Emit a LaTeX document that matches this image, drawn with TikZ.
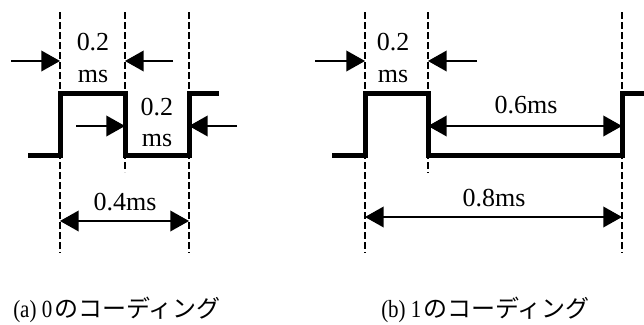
\documentclass[tikz,border=0pt]{standalone}
\usepackage{fontspec}
\setmainfont{Liberation Serif}
\newfontfamily\capfont[FakeStretch=0.85]{Liberation Serif}
\newfontfamily\jpfont{Noto Sans CJK JP}
\usetikzlibrary{arrows.meta}
\begin{document}
\begin{tikzpicture}
[
    x=0.75pt, y=-0.75pt,
    signal/.style={line width=3.75pt, line join=miter},
    guide/.style={line width=1.1pt, dash pattern=on 5pt off 2.5pt},
    dim/.style={line width=1.1pt, -{Triangle[length=14pt,width=15.5pt]}},
    dimboth/.style={line width=1.1pt, {Triangle[length=14pt,width=15.5pt]}-{Triangle[length=14pt,width=15.5pt]}},
    lbl/.style={anchor=base, inner sep=0pt, font=\fontsize{19.5}{23}\selectfont},
    caption/.style={anchor=base west, inner sep=0pt, font=\capfont\fontsize{18.5}{22}\selectfont},
]
\useasboundingbox (0,0) rectangle (644,325);
\foreach \x/\b in {60/253,125/172,189/253,365/253,428/173,622/253}
    \draw[guide] (\x,12) -- (\x,\b);
\coordinate (a0) at (28,155);
\coordinate (a1) at (60,155);
\coordinate (a2) at (60,93);
\coordinate (a3) at (125,93);
\coordinate (a4) at (125,155);
\coordinate (a5) at (189,155);
\coordinate (a6) at (189,93);
\coordinate (a7) at (219,93);
\draw[signal] (a0) -- (a1) -- (a2) -- (a3) -- (a4) -- (a5) -- (a6) -- (a7);
\coordinate (b0) at (332,155);
\coordinate (b1) at (365,155);
\coordinate (b2) at (365,93);
\coordinate (b3) at (428,93);
\coordinate (b4) at (428,155);
\coordinate (b5) at (622,155);
\coordinate (b6) at (622,93);
\coordinate (b7) at (646,93);
\draw[signal] (b0) -- (b1) -- (b2) -- (b3) -- (b4) -- (b5) -- (b6) -- (b7);
\coordinate (ahl) at (11,61);
\coordinate (ahr) at (173,61);
\coordinate (alo) at (76,126);
\coordinate (aro) at (237,126);
\draw[dim] (ahl) -- (60,61) coordinate (ahlt);
\draw[dim] (ahr) -- (125,61) coordinate (ahrt);
\draw[dim] (alo) -- (125,126) coordinate (alot);
\draw[dim] (aro) -- (189,126) coordinate (arot);
\coordinate (aw0) at (60,221);
\coordinate (aw1) at (189,221);
\draw[dimboth] (aw0) -- (aw1);
\node[lbl] (ahigh) at (93,50) {0.2};
\node[lbl] (ahighu) at (93,82) {ms};
\node[lbl] (alow) at (157,115) {0.2};
\node[lbl] (alowu) at (157,146) {ms};
\node[lbl] (aper) at (125,210) {0.4ms};
\coordinate (bhl) at (315,61);
\coordinate (bhr) at (477,61);
\draw[dim] (bhl) -- (365,61) coordinate (bhlt);
\draw[dim] (bhr) -- (428,61) coordinate (bhrt);
\coordinate (bl0) at (428,126);
\coordinate (bl1) at (622,126);
\draw[dimboth] (bl0) -- (bl1);
\coordinate (bw0) at (365,217);
\coordinate (bw1) at (622,217);
\draw[dimboth] (bw0) -- (bw1);
\node[lbl] (bhigh) at (393,50) {0.2};
\node[lbl] (bhighu) at (393,82) {ms};
\node[lbl] (blow) at (526,113) {0.6ms};
\node[lbl] (bper) at (494,206) {0.8ms};
\node[caption] (capa) at (13,317) {(a) 0\kern1.5pt{\jpfont\fontsize{18}{20}\selectfont のコーディング}};
\node[caption] (capb) at (381,317) {(b) 1\kern1.5pt{\jpfont\fontsize{18}{20}\selectfont のコーディング}};
\end{tikzpicture}
\end{document}
